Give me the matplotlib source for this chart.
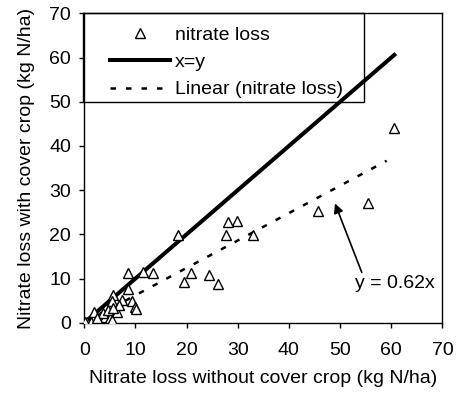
import numpy as np
import matplotlib.pyplot as plt
from matplotlib.patches import Rectangle

plt.rcParams['font.family'] = ['Liberation Sans', 'DejaVu Sans']

# nitrate loss without / with cover crop (kg N/ha)
no_cover = [60.6, 55.5, 45.6, 33.0, 29.8, 28.0, 27.7, 18.3, 26.2, 24.4, 20.9, 19.4,
            13.4, 11.5, 8.6, 8.5, 7.3, 9.3, 9.9, 10.2, 5.7, 5.4, 1.8, 0.5, 1.4,
            3.1, 4.0, 5.0, 5.4, 6.3, 6.8, 3.7, 4.7, 5.7, 2.4, 0.2]
with_cover = [44.1, 27.2, 25.3, 19.8, 23.1, 22.9, 19.8, 19.8, 8.7, 10.8, 11.2, 9.3,
              11.3, 11.5, 11.2, 7.6, 5.1, 4.8, 3.6, 3.0, 6.3, 4.8, 2.5, 0.2, 0.2,
              1.4, 1.4, 1.0, 0.6, 2.5, 4.0, 2.1, 2.9, 3.3, 1.0, 0.1]
slope = 0.62

x_line = [0, 60.6]

fs = 14

fig = plt.figure(figsize=(4.57, 3.94), dpi=100)
ax = fig.add_axes([0.1845, 0.181, 0.7835, 0.785])

pts, = ax.plot(no_cover, with_cover, linestyle='none', marker='^', markersize=7,
               markerfacecolor='white', markeredgecolor='black', markeredgewidth=1.0,
               label='nitrate loss', zorder=3)
one, = ax.plot(x_line, x_line, color='black', linewidth=2.9, label='x=y', zorder=2)
fit, = ax.plot([0, 59.1], [0, slope * 59.1], color='black', linewidth=1.8,
               dashes=(2.2, 4.0), label='Linear (nitrate loss)', zorder=2)

ax.annotate('y = 0.62x', xy=(49.0, 27.0), xytext=(52.9, 8.8),
            fontsize=fs, va='center', ha='left',
            arrowprops=dict(arrowstyle='-|>', color='black', lw=1.2,
                            mutation_scale=14, shrinkA=0, shrinkB=0,
                            relpos=(0.1, 1.0)))

ax.set_xlim(0, 70)
ax.set_ylim(0, 70)
ax.set_xticks(np.arange(0, 71, 10))
ax.set_yticks(np.arange(0, 71, 10))
ax.tick_params(direction='out', length=3.6, width=1, labelsize=fs, colors='black')
ax.tick_params(axis='x', pad=10.5)
ax.tick_params(axis='y', pad=6)
for sp in ax.spines.values():
    sp.set_linewidth(1)

ax.set_xlabel('Nitrate loss without cover crop (kg N/ha)', fontsize=fs, labelpad=8)
ax.set_ylabel('Nitrate loss with cover crop (kg N/ha)', fontsize=fs, labelpad=10)

# legend box frame drawn separately so it can be wider than its contents
ax.add_patch(Rectangle((-0.3, 50), 55.0, 20, fill=False, edgecolor='black',
                       linewidth=1, clip_on=False, zorder=4))
leg = ax.legend(handles=[pts, one, fit], loc='upper left', bbox_to_anchor=(5.0, 67.1),
                bbox_transform=ax.transData, borderaxespad=0, borderpad=0,
                frameon=False, fontsize=fs, handlelength=3.1, handletextpad=0.26,
                labelspacing=0.5)

fig.savefig('out.png', dpi=100)
